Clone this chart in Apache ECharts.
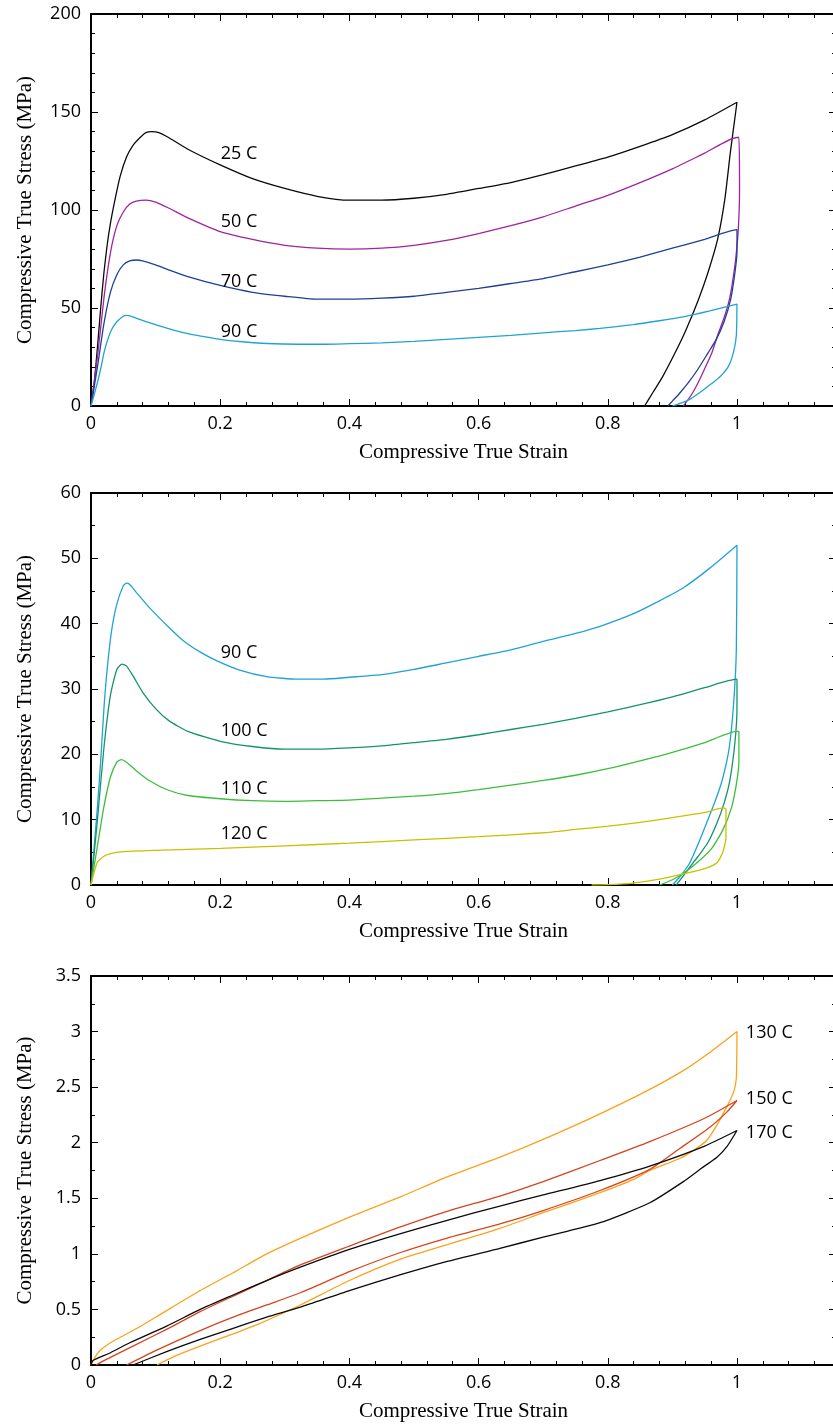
<!DOCTYPE html>
<html>
<head>
<meta charset="utf-8">
<script src="https://cdn.jsdelivr.net/npm/echarts@6/dist/echarts.min.js"></script>
<style>
html,body{margin:0;padding:0;background:#fff;}
#chart{width:833px;height:1428px;}
</style>
</head>
<body>
<div id="chart"></div>
<script>
// ---------- DATA (strain, stress) ----------
// Panel 1 (MPa)
const c25 = [[0,0],[0.005,12],[0.01,30],[0.015,50],[0.02,68],[0.025,82],[0.03,93],[0.037,105],[0.045,117],[0.055,127],[0.065,133],[0.076,137],[0.085,139.5],[0.094,140],[0.105,139.5],[0.12,137],[0.15,131],[0.2,123],[0.25,116],[0.3,111],[0.35,107],[0.4,105],[0.45,105],[0.5,106],[0.55,108],[0.6,111],[0.65,114],[0.7,118],[0.75,122.5],[0.8,127],[0.85,132.5],[0.9,138.5],[0.95,146],[1.0,155],
  [0.998,150],[0.99,130],[0.981,105],[0.97,85],[0.955,68],[0.94,54],[0.92,38],[0.904,27],[0.885,15],[0.87,7],[0.857,0]];
const c50 = [[0,0],[0.01,25],[0.02,55],[0.03,78],[0.04,92],[0.05,99],[0.06,103],[0.07,104.5],[0.085,105],[0.1,104],[0.12,101],[0.15,96],[0.2,89],[0.25,85],[0.3,82],[0.35,80.5],[0.4,80],[0.45,80.5],[0.5,82],[0.55,84.5],[0.6,88],[0.65,92],[0.7,96.5],[0.75,102],[0.8,107.5],[0.85,114],[0.9,121],[0.95,129],[1.0,137],
  [1.003,137],[1.004,110],[1.002,90],[0.998,75],[0.993,63],[0.988,54],[0.98,45],[0.97,36],[0.961,27],[0.95,19],[0.94,12],[0.93,6],[0.917,0]];
const c70 = [[0,0],[0.01,20],[0.02,42],[0.03,58],[0.04,67],[0.05,72],[0.06,74],[0.07,74.5],[0.08,74],[0.1,72],[0.12,69.5],[0.15,66],[0.2,61.5],[0.25,58],[0.3,56],[0.35,54.5],[0.4,54.5],[0.45,55],[0.5,56],[0.55,58],[0.6,60],[0.65,62.5],[0.7,65],[0.75,68.5],[0.8,72],[0.85,76],[0.9,80.5],[0.95,85],[1.0,90],
  [1.001,90],[1.0,78],[0.996,66],[0.99,54],[0.98,43],[0.968,34],[0.955,27],[0.94,19],[0.925,12],[0.91,6],[0.9,2.5],[0.893,0]];
const c90 = [[0,0],[0.01,12],[0.015,19],[0.02,27],[0.025,33],[0.032,39],[0.04,43],[0.05,45.8],[0.055,46.2],[0.06,46],[0.07,44.8],[0.09,42.5],[0.12,39.5],[0.143,37.4],[0.17,35.6],[0.195,34.3],[0.23,32.9],[0.272,31.9],[0.32,31.5],[0.36,31.5],[0.4,31.8],[0.45,32.2],[0.5,33],[0.55,34],[0.6,35],[0.65,36],[0.7,37.3],[0.75,38.5],[0.788,39.6],[0.839,41.5],[0.88,43.5],[0.917,45.5],[0.958,48.5],[1.0,52],
  [0.999,36],[0.995,28],[0.988,21],[0.977,16],[0.965,12.5],[0.953,9.5],[0.94,6.3],[0.927,3.4],[0.912,1.3],[0.9,0]];
// Panel 2 (MPa)
const c100 = [[0,0],[0.01,10],[0.02,21],[0.03,29],[0.04,33],[0.048,33.8],[0.055,33.5],[0.065,32],[0.08,29.5],[0.1,27],[0.12,25.2],[0.15,23.5],[0.2,22],[0.25,21.2],[0.3,20.8],[0.35,20.8],[0.4,21],[0.45,21.3],[0.5,21.8],[0.55,22.3],[0.6,23],[0.65,23.8],[0.7,24.6],[0.75,25.5],[0.8,26.5],[0.85,27.6],[0.9,28.8],[0.95,30.2],[1.0,31.5],
  [1.001,31.5],[1.0,27],[0.997,22],[0.989,16],[0.98,12.5],[0.969,9.5],[0.955,6.5],[0.94,4.4],[0.932,3.4],[0.92,1.8],[0.906,0]];
const c110 = [[0,0],[0.01,6],[0.02,12],[0.03,16.5],[0.04,18.8],[0.047,19.2],[0.055,18.8],[0.07,17.5],[0.09,16],[0.12,14.5],[0.15,13.7],[0.2,13.2],[0.25,12.9],[0.3,12.8],[0.35,12.9],[0.4,13],[0.45,13.3],[0.5,13.6],[0.55,14],[0.6,14.6],[0.65,15.3],[0.7,16],[0.75,16.8],[0.8,17.8],[0.85,19],[0.9,20.3],[0.95,21.8],[1.0,23.5],
  [1.003,23.5],[1.003,19],[1.0,16],[0.992,12],[0.978,8.4],[0.96,5.5],[0.938,3.4],[0.92,2],[0.9,0.8],[0.88,0]];
const c120 = [[0,0],[0.005,2],[0.01,3.5],[0.02,4.4],[0.03,4.8],[0.05,5.1],[0.1,5.3],[0.2,5.6],[0.3,6],[0.4,6.4],[0.5,6.9],[0.6,7.4],[0.7,8],[0.75,8.5],[0.8,9],[0.85,9.6],[0.9,10.3],[0.95,11.1],[0.979,11.8],
  [0.983,11.6],[0.983,7.3],[0.978,5],[0.969,3.4],[0.95,2.5],[0.922,1.8],[0.88,0.9],[0.839,0.3],[0.8,0.05],[0.775,0]];
// Panel 3 (MPa)
const c130 = [[0,0],[0.005,0.06],[0.014,0.13],[0.03,0.2],[0.065,0.31],[0.1,0.43],[0.169,0.67],[0.22,0.83],[0.272,1.0],[0.324,1.14],[0.4,1.33],[0.478,1.51],[0.55,1.69],[0.633,1.87],[0.7,2.03],[0.788,2.26],[0.865,2.48],[0.92,2.66],[0.96,2.82],[1.0,3.0],
  [0.999,2.58],[0.995,2.46],[0.984,2.32],[0.968,2.15],[0.953,2.02],[0.935,1.94],[0.912,1.86],[0.865,1.75],[0.84,1.67],[0.788,1.55],[0.7,1.37],[0.633,1.23],[0.55,1.08],[0.478,0.95],[0.4,0.76],[0.324,0.54],[0.26,0.37],[0.22,0.28],[0.169,0.17],[0.13,0.08],[0.102,0]];
const c150 = [[0.008,0],[0.02,0.04],[0.065,0.17],[0.12,0.33],[0.169,0.48],[0.22,0.62],[0.272,0.76],[0.324,0.9],[0.4,1.07],[0.478,1.24],[0.55,1.38],[0.633,1.52],[0.7,1.65],[0.788,1.84],[0.865,2.01],[0.95,2.22],[1.0,2.38],
  [0.985,2.28],[0.958,2.14],[0.912,1.95],[0.865,1.76],[0.788,1.57],[0.7,1.39],[0.633,1.27],[0.55,1.14],[0.478,1.01],[0.4,0.84],[0.324,0.65],[0.272,0.54],[0.22,0.43],[0.169,0.31],[0.1,0.13],[0.055,0]];
const c170 = [[0,0],[0.003,0.04],[0.03,0.11],[0.06,0.2],[0.117,0.35],[0.169,0.5],[0.22,0.63],[0.272,0.76],[0.324,0.88],[0.4,1.04],[0.478,1.18],[0.55,1.3],[0.633,1.43],[0.7,1.53],[0.788,1.66],[0.865,1.79],[0.95,1.97],[1.0,2.11],
  [0.985,1.97],[0.969,1.87],[0.945,1.77],[0.917,1.65],[0.865,1.46],[0.788,1.28],[0.7,1.15],[0.633,1.05],[0.55,0.93],[0.478,0.81],[0.4,0.67],[0.324,0.52],[0.272,0.43],[0.22,0.33],[0.169,0.23],[0.117,0.12],[0.065,0]];

// curve labels: [text, strain, stress]
const labels1 = [['25 C',0.2,128.6],['50 C',0.2,93.9],['70 C',0.2,63.3],['90 C',0.2,38]];
const labels2 = [['90 C',0.2,35.5],['100 C',0.2,23.6],['110 C',0.2,14.7],['120 C',0.2,7.8]];
const labels3 = [['130 C',1.013,2.99],['150 C',1.013,2.39],['170 C',1.013,2.09]];

// axes
const xName = 'Compressive True Strain';
const yName = 'Compressive True Stress (MPa)';
const xRange = [0, 1.1533];
const yRanges = [[0,200,50,5],[0,60,10,2],[0,3.5,0.5,2]]; // min,max,interval,minor split

// ---------- CHART ----------
const colors = {
  c25:'#0a0a0a', c50:'#a1239d', c70:'#1d3f96', c90:'#1fa3d6',
  c100:'#13936d', c110:'#3cbe3c', c120:'#cbc000',
  c130:'#fba21a', c150:'#d5441a', c170:'#0a0a0a'
};
const grids = [
  {left:91, width:745, top:14, height:392, outerBoundsMode:'none', containLabel:false},
  {left:91, width:745, top:493, height:392, outerBoundsMode:'none', containLabel:false},
  {left:91, width:745, top:976, height:389, outerBoundsMode:'none', containLabel:false}
];
const tickFont = {fontFamily:'Open Sans', fontSize:18, color:'#000'};
const titleFont = {fontFamily:'Liberation Serif', fontSize:21, color:'#000'};
const lineStyleAxis = {color:'#000', width:2};

const xAxes = [], yAxes = [];
grids.forEach((g, i) => {
  const base = {gridIndex:i, type:'value', min:xRange[0], max:xRange[1], splitLine:{show:false}};
  xAxes.push(Object.assign({}, base, {
    position:'bottom', interval:0.2,
    axisLine:{show:true, onZero:false, lineStyle:lineStyleAxis},
    axisTick:{show:true, inside:true, length:7, lineStyle:{color:'#000', width:1}},
    axisLabel:Object.assign({show:true, margin:9, showMaxLabel:false}, tickFont),
    name:xName, nameLocation:'middle', nameGap:36, nameTextStyle:titleFont
  }));
  xAxes.push(Object.assign({}, base, {
    position:'bottom', interval:0.04,
    axisLine:{show:false, onZero:false},
    axisTick:{show:true, inside:true, length:4, lineStyle:{color:'#000', width:1}},
    axisLabel:{show:false}
  }));
  xAxes.push(Object.assign({}, base, {
    position:'top', interval:0.2,
    axisLine:{show:true, onZero:false, lineStyle:lineStyleAxis},
    axisTick:{show:true, inside:true, length:7, lineStyle:{color:'#000', width:1}},
    axisLabel:{show:false}
  }));
  xAxes.push(Object.assign({}, base, {
    position:'top', interval:0.04,
    axisLine:{show:false, onZero:false},
    axisTick:{show:true, inside:true, length:4, lineStyle:{color:'#000', width:1}},
    axisLabel:{show:false}
  }));
  const yr = yRanges[i];
  const ybase = {gridIndex:i, type:'value', min:yr[0], max:yr[1], interval:yr[2], splitLine:{show:false},
    minorTick:{show:true, splitNumber:yr[3], length:4, lineStyle:{color:'#000', width:1}},
    axisTick:{show:true, inside:true, length:7, lineStyle:{color:'#000', width:1}}};
  yAxes.push(Object.assign({}, ybase, {
    position:'left',
    axisLine:{show:true, onZero:false, lineStyle:lineStyleAxis},
    axisLabel:Object.assign({show:true, margin:10}, tickFont),
    name:yName, nameLocation:'middle', nameGap:55, nameTextStyle:titleFont
  }));
  yAxes.push(Object.assign({}, ybase, {
    position:'right',
    axisLine:{show:true, onZero:false, lineStyle:lineStyleAxis},
    axisLabel:{show:false}
  }));
});

function curve(key, data, gi) {
  return {
    type:'line', xAxisIndex:gi*4, yAxisIndex:gi*2, data:data,
    showSymbol:false, symbol:'none', smooth:0.2, animation:false, silent:true,
    lineStyle:{color:colors[key], width:1.3}, z:3
  };
}
function labelSeries(list, gi) {
  return {
    type:'scatter', xAxisIndex:gi*4, yAxisIndex:gi*2, symbolSize:1, animation:false, silent:true,
    itemStyle:{opacity:0},
    data:list.map(l => ({name:l[0], value:[l[1], l[2]]})),
    label:{show:true, position:'right', distance:0, formatter:'{b}',
      fontFamily:'Open Sans', fontSize:18, color:'#000', opacity:1},
    z:5
  };
}

const series = [
  curve('c25', c25, 0), curve('c50', c50, 0), curve('c70', c70, 0), curve('c90', c90, 0),
  curve('c90', c90, 1), curve('c100', c100, 1), curve('c110', c110, 1), curve('c120', c120, 1),
  curve('c130', c130, 2), curve('c150', c150, 2), curve('c170', c170, 2),
  labelSeries(labels1, 0), labelSeries(labels2, 1), labelSeries(labels3, 2)
];

const chart = echarts.init(document.getElementById('chart'), null, {renderer:'canvas'});
chart.setOption({
  animation:false,
  backgroundColor:'#fff',
  grid:grids,
  xAxis:xAxes,
  yAxis:yAxes,
  series:series
});
</script>
</body>
</html>
